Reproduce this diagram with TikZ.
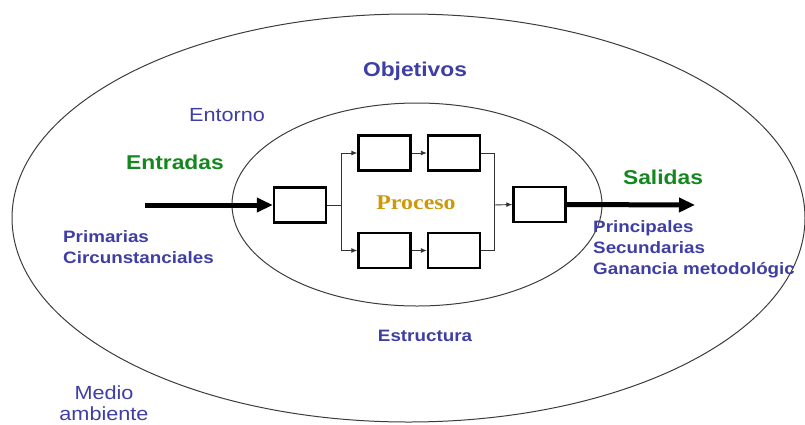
\documentclass[tikz,border=0pt]{standalone}
\usepackage{fontspec}
\setmainfont{Liberation Sans}[FakeStretch=1.14]
\newfontfamily\serifb{Liberation Serif}[FakeStretch=1.14]
\usetikzlibrary{arrows.meta}
\definecolor{txtblue}{RGB}{62,62,165}
\definecolor{txtgreen}{RGB}{20,135,30}
\definecolor{gold}{RGB}{205,152,10}
\definecolor{ring}{RGB}{60,60,60}
\tikzset{
  boxn/.style={draw=black,line width=2.4pt,minimum width=52pt,minimum height=35pt,inner sep=0pt},
  thin/.style={line width=0.9pt,draw=black!80},
  thinarr/.style={thin,-{Latex[length=6pt,width=5pt]}},
  bigarr/.style={line width=5pt,-{Triangle[length=16pt,width=14pt]}},
  ringst/.style={draw=ring,line width=1pt},
  head/.style={font=\fontsize{20}{22}\selectfont\bfseries,text=txtgreen,inner sep=0pt},
  lbl/.style={font=\fontsize{16.5}{21}\selectfont\bfseries,text=txtblue,inner sep=0pt},
  lblr/.style={font=\fontsize{19}{21}\selectfont,text=txtblue,inner sep=0pt},
}
\begin{document}
\begin{tikzpicture}[x=1pt,y=-1pt]
\useasboundingbox (0,0) rectangle (805,424);
% ellipses
\draw[ringst] (408.5,218) ellipse [x radius=396.5, y radius=204];
\draw[ringst] (417,204.5) ellipse [x radius=185, y radius=101.5];
% boxes
\node[boxn] (b1) at (300,205) {};
\node[boxn] (b2) at (384.5,153) {};
\node[boxn] (b3) at (454,153) {};
\node[boxn] (b4) at (384.5,250.5) {};
\node[boxn] (b5) at (454,250.5) {};
\node[boxn] (b6) at (539.5,204.5) {};
\coordinate (s) at (341,205);
\coordinate (m) at (494,205);
\coordinate (in) at (145,205);
\coordinate (out) at (695,205);
\draw[thin] (b1.east) -- (s);
\draw[thinarr] (s) |- (b2.west);
\draw[thinarr] (s) |- (b4.west);
\draw[thinarr] (b2.east) -- (b3.west);
\draw[thinarr] (b4.east) -- (b5.west);
\draw[thin] (b3.east) -| (m);
\draw[thin] (b5.east) -| (m);
\draw[thinarr] (m) -- (b6.west);
\draw[bigarr] (in) -- (b1.west);
\draw[bigarr] (b6.east) -- (out);
% texts
\node[font=\fontsize{20}{22}\selectfont\bfseries,text=txtblue,inner sep=0pt] (obj) at (415,71) {Objetivos};
\node[lblr] (ent) at (227,115) {Entorno};
\node[head] (entr) at (175,162) {Entradas};
\node[head] (sal) at (663,177) {Salidas};
\node[font=\serifb\fontsize{21}{22}\selectfont\bfseries,text=gold,inner sep=0pt] (proc) at (416,203) {Proceso};
\begin{scope}
\clip (0,0) rectangle (212,424);
\node[lbl,anchor=north west,align=left] (prim) at (63,230) {Primarias\\Circunstanciales};
\end{scope}
\node[lbl,anchor=north west,align=left] (sal2) at (593,220) {Principales\\Secundarias\\Ganancia metodológic};
\node[lbl] (est) at (425,336) {Estructura};
\node[lblr,align=center] (med) at (104,403.5) {Medio\\ambiente};
\end{tikzpicture}
\end{document}
